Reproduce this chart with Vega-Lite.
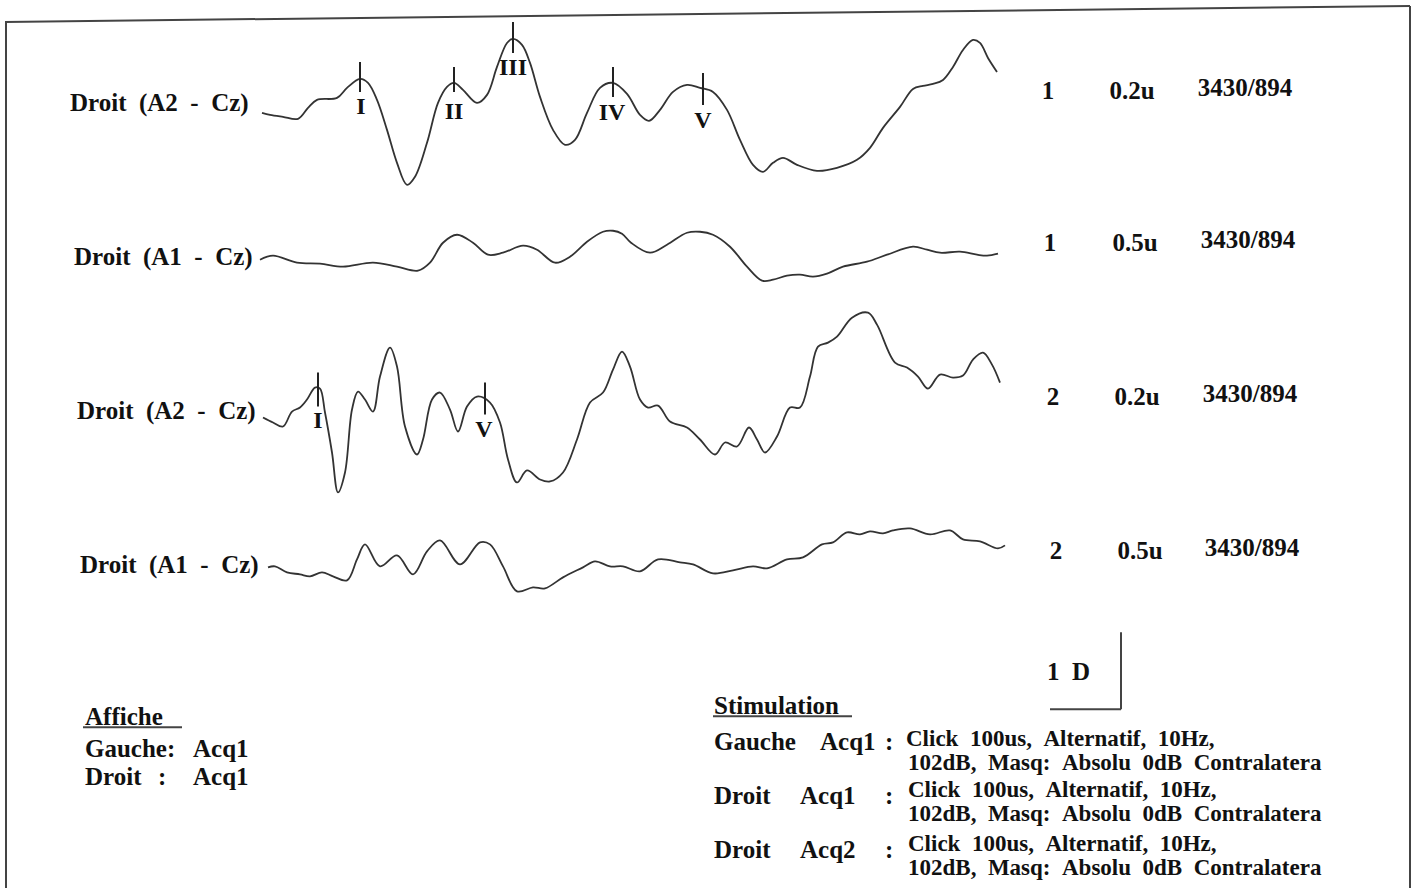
{
  "$schema": "https://vega.github.io/schema/vega-lite/v6.json",
  "width": 1416,
  "height": 889,
  "autosize": {"type": "fit", "contains": "padding"},
  "padding": 0,
  "background": "#ffffff",
  "config": {"view": {"stroke": null}, "axis": {"disable": true}},
  "datasets": {
    "traces": [
      {"trace": "A", "x": 262, "y": 113}, {"trace": "A", "x": 270, "y": 115}, {"trace": "A", "x": 283, "y": 117}, {"trace": "A", "x": 298, "y": 119}, {"trace": "A", "x": 308, "y": 108}, {"trace": "A", "x": 317, "y": 100}, {"trace": "A", "x": 337, "y": 98}, {"trace": "A", "x": 347, "y": 88}, {"trace": "A", "x": 360, "y": 79}, {"trace": "A", "x": 368, "y": 83}, {"trace": "A", "x": 377, "y": 100}, {"trace": "A", "x": 387, "y": 130}, {"trace": "A", "x": 397, "y": 163}, {"trace": "A", "x": 407, "y": 185}, {"trace": "A", "x": 415, "y": 177}, {"trace": "A", "x": 427, "y": 143}, {"trace": "A", "x": 438, "y": 103}, {"trace": "A", "x": 447, "y": 87}, {"trace": "A", "x": 454, "y": 83}, {"trace": "A", "x": 463, "y": 90}, {"trace": "A", "x": 477, "y": 103}, {"trace": "A", "x": 487, "y": 95}, {"trace": "A", "x": 497, "y": 67}, {"trace": "A", "x": 507, "y": 43}, {"trace": "A", "x": 513, "y": 39}, {"trace": "A", "x": 522, "y": 45}, {"trace": "A", "x": 530, "y": 63}, {"trace": "A", "x": 540, "y": 97}, {"trace": "A", "x": 553, "y": 130}, {"trace": "A", "x": 565, "y": 145}, {"trace": "A", "x": 575, "y": 140}, {"trace": "A", "x": 587, "y": 113}, {"trace": "A", "x": 600, "y": 88}, {"trace": "A", "x": 613, "y": 83}, {"trace": "A", "x": 627, "y": 94}, {"trace": "A", "x": 640, "y": 115}, {"trace": "A", "x": 649, "y": 121}, {"trace": "A", "x": 660, "y": 110}, {"trace": "A", "x": 673, "y": 92}, {"trace": "A", "x": 687, "y": 85}, {"trace": "A", "x": 700, "y": 88}, {"trace": "A", "x": 713, "y": 92}, {"trace": "A", "x": 727, "y": 110}, {"trace": "A", "x": 740, "y": 140}, {"trace": "A", "x": 753, "y": 165}, {"trace": "A", "x": 763, "y": 172}, {"trace": "A", "x": 773, "y": 163}, {"trace": "A", "x": 783, "y": 158}, {"trace": "A", "x": 797, "y": 165}, {"trace": "A", "x": 817, "y": 171}, {"trace": "A", "x": 837, "y": 168}, {"trace": "A", "x": 857, "y": 160}, {"trace": "A", "x": 870, "y": 148}, {"trace": "A", "x": 883, "y": 128}, {"trace": "A", "x": 900, "y": 107}, {"trace": "A", "x": 913, "y": 89}, {"trace": "A", "x": 923, "y": 86}, {"trace": "A", "x": 933, "y": 84}, {"trace": "A", "x": 943, "y": 80}, {"trace": "A", "x": 953, "y": 67}, {"trace": "A", "x": 963, "y": 50}, {"trace": "A", "x": 973, "y": 40}, {"trace": "A", "x": 980, "y": 43}, {"trace": "A", "x": 988, "y": 58}, {"trace": "A", "x": 997, "y": 72},

      {"trace": "B", "x": 260, "y": 260}, {"trace": "B", "x": 273, "y": 256}, {"trace": "B", "x": 297, "y": 263}, {"trace": "B", "x": 320, "y": 264}, {"trace": "B", "x": 343, "y": 267}, {"trace": "B", "x": 373, "y": 263}, {"trace": "B", "x": 397, "y": 267}, {"trace": "B", "x": 418, "y": 271}, {"trace": "B", "x": 430, "y": 263}, {"trace": "B", "x": 443, "y": 243}, {"trace": "B", "x": 457, "y": 235}, {"trace": "B", "x": 473, "y": 243}, {"trace": "B", "x": 488, "y": 255}, {"trace": "B", "x": 503, "y": 253}, {"trace": "B", "x": 523, "y": 246}, {"trace": "B", "x": 537, "y": 250}, {"trace": "B", "x": 555, "y": 263}, {"trace": "B", "x": 570, "y": 257}, {"trace": "B", "x": 587, "y": 242}, {"trace": "B", "x": 603, "y": 232}, {"trace": "B", "x": 613, "y": 231}, {"trace": "B", "x": 622, "y": 234}, {"trace": "B", "x": 631, "y": 243}, {"trace": "B", "x": 650, "y": 253}, {"trace": "B", "x": 667, "y": 245}, {"trace": "B", "x": 687, "y": 233}, {"trace": "B", "x": 700, "y": 232}, {"trace": "B", "x": 713, "y": 235}, {"trace": "B", "x": 730, "y": 247}, {"trace": "B", "x": 747, "y": 267}, {"trace": "B", "x": 762, "y": 281}, {"trace": "B", "x": 773, "y": 280}, {"trace": "B", "x": 787, "y": 276}, {"trace": "B", "x": 800, "y": 275}, {"trace": "B", "x": 813, "y": 277}, {"trace": "B", "x": 827, "y": 274}, {"trace": "B", "x": 843, "y": 267}, {"trace": "B", "x": 867, "y": 262}, {"trace": "B", "x": 887, "y": 255}, {"trace": "B", "x": 913, "y": 247}, {"trace": "B", "x": 927, "y": 250}, {"trace": "B", "x": 940, "y": 253}, {"trace": "B", "x": 960, "y": 252}, {"trace": "B", "x": 977, "y": 255}, {"trace": "B", "x": 987, "y": 256}, {"trace": "B", "x": 998, "y": 254},

      {"trace": "C", "x": 263, "y": 418}, {"trace": "C", "x": 273, "y": 423}, {"trace": "C", "x": 283, "y": 427}, {"trace": "C", "x": 292, "y": 412}, {"trace": "C", "x": 300, "y": 408}, {"trace": "C", "x": 307, "y": 400}, {"trace": "C", "x": 315, "y": 388}, {"trace": "C", "x": 320, "y": 389}, {"trace": "C", "x": 325, "y": 413}, {"trace": "C", "x": 332, "y": 453}, {"trace": "C", "x": 338, "y": 493}, {"trace": "C", "x": 345, "y": 473}, {"trace": "C", "x": 352, "y": 410}, {"trace": "C", "x": 358, "y": 392}, {"trace": "C", "x": 365, "y": 400}, {"trace": "C", "x": 373, "y": 412}, {"trace": "C", "x": 380, "y": 377}, {"trace": "C", "x": 390, "y": 348}, {"trace": "C", "x": 397, "y": 367}, {"trace": "C", "x": 405, "y": 427}, {"trace": "C", "x": 417, "y": 455}, {"trace": "C", "x": 423, "y": 440}, {"trace": "C", "x": 432, "y": 400}, {"trace": "C", "x": 440, "y": 393}, {"trace": "C", "x": 450, "y": 410}, {"trace": "C", "x": 458, "y": 432}, {"trace": "C", "x": 467, "y": 407}, {"trace": "C", "x": 477, "y": 397}, {"trace": "C", "x": 490, "y": 403}, {"trace": "C", "x": 500, "y": 423}, {"trace": "C", "x": 508, "y": 460}, {"trace": "C", "x": 517, "y": 483}, {"trace": "C", "x": 527, "y": 471}, {"trace": "C", "x": 540, "y": 480}, {"trace": "C", "x": 550, "y": 482}, {"trace": "C", "x": 563, "y": 473}, {"trace": "C", "x": 577, "y": 440}, {"trace": "C", "x": 590, "y": 403}, {"trace": "C", "x": 603, "y": 393}, {"trace": "C", "x": 613, "y": 370}, {"trace": "C", "x": 622, "y": 352}, {"trace": "C", "x": 630, "y": 367}, {"trace": "C", "x": 640, "y": 400}, {"trace": "C", "x": 648, "y": 408}, {"trace": "C", "x": 658, "y": 406}, {"trace": "C", "x": 670, "y": 422}, {"trace": "C", "x": 687, "y": 428}, {"trace": "C", "x": 700, "y": 440}, {"trace": "C", "x": 715, "y": 455}, {"trace": "C", "x": 725, "y": 443}, {"trace": "C", "x": 737, "y": 447}, {"trace": "C", "x": 749, "y": 428}, {"trace": "C", "x": 757, "y": 440}, {"trace": "C", "x": 765, "y": 453}, {"trace": "C", "x": 777, "y": 437}, {"trace": "C", "x": 790, "y": 408}, {"trace": "C", "x": 800, "y": 408}, {"trace": "C", "x": 810, "y": 377}, {"trace": "C", "x": 818, "y": 347}, {"trace": "C", "x": 828, "y": 343}, {"trace": "C", "x": 837, "y": 337}, {"trace": "C", "x": 852, "y": 318}, {"trace": "C", "x": 868, "y": 313}, {"trace": "C", "x": 877, "y": 325}, {"trace": "C", "x": 895, "y": 363}, {"trace": "C", "x": 907, "y": 368}, {"trace": "C", "x": 918, "y": 377}, {"trace": "C", "x": 928, "y": 389}, {"trace": "C", "x": 940, "y": 375}, {"trace": "C", "x": 953, "y": 378}, {"trace": "C", "x": 963, "y": 376}, {"trace": "C", "x": 973, "y": 360}, {"trace": "C", "x": 983, "y": 353}, {"trace": "C", "x": 992, "y": 365}, {"trace": "C", "x": 1000, "y": 383},

      {"trace": "D", "x": 268, "y": 568}, {"trace": "D", "x": 275, "y": 567}, {"trace": "D", "x": 287, "y": 573}, {"trace": "D", "x": 300, "y": 575}, {"trace": "D", "x": 310, "y": 577}, {"trace": "D", "x": 322, "y": 573}, {"trace": "D", "x": 333, "y": 577}, {"trace": "D", "x": 347, "y": 581}, {"trace": "D", "x": 357, "y": 560}, {"trace": "D", "x": 365, "y": 545}, {"trace": "D", "x": 380, "y": 567}, {"trace": "D", "x": 397, "y": 556}, {"trace": "D", "x": 413, "y": 575}, {"trace": "D", "x": 427, "y": 552}, {"trace": "D", "x": 440, "y": 541}, {"trace": "D", "x": 460, "y": 565}, {"trace": "D", "x": 480, "y": 543}, {"trace": "D", "x": 490, "y": 545}, {"trace": "D", "x": 503, "y": 567}, {"trace": "D", "x": 517, "y": 592}, {"trace": "D", "x": 533, "y": 588}, {"trace": "D", "x": 545, "y": 589}, {"trace": "D", "x": 563, "y": 578}, {"trace": "D", "x": 583, "y": 568}, {"trace": "D", "x": 595, "y": 562}, {"trace": "D", "x": 610, "y": 567}, {"trace": "D", "x": 623, "y": 567}, {"trace": "D", "x": 640, "y": 572}, {"trace": "D", "x": 658, "y": 560}, {"trace": "D", "x": 680, "y": 563}, {"trace": "D", "x": 693, "y": 565}, {"trace": "D", "x": 713, "y": 574}, {"trace": "D", "x": 733, "y": 571}, {"trace": "D", "x": 753, "y": 567}, {"trace": "D", "x": 767, "y": 569}, {"trace": "D", "x": 787, "y": 560}, {"trace": "D", "x": 803, "y": 558}, {"trace": "D", "x": 822, "y": 545}, {"trace": "D", "x": 833, "y": 543}, {"trace": "D", "x": 847, "y": 533}, {"trace": "D", "x": 860, "y": 535}, {"trace": "D", "x": 870, "y": 532}, {"trace": "D", "x": 883, "y": 534}, {"trace": "D", "x": 893, "y": 531}, {"trace": "D", "x": 910, "y": 529}, {"trace": "D", "x": 930, "y": 535}, {"trace": "D", "x": 950, "y": 531}, {"trace": "D", "x": 963, "y": 540}, {"trace": "D", "x": 980, "y": 542}, {"trace": "D", "x": 998, "y": 549}, {"trace": "D", "x": 1005, "y": 546}
    ],
    "ticks": [
      {"x": 360, "y": 62, "y2": 92}, {"x": 454, "y": 67, "y2": 92}, {"x": 513, "y": 22, "y2": 53}, {"x": 613, "y": 67, "y2": 97}, {"x": 703, "y": 73, "y2": 105},
      {"x": 318, "y": 373, "y2": 407}, {"x": 485, "y": 383, "y2": 415}
    ],
    "numerals": [
      {"x": 361, "y": 107, "text": "I"}, {"x": 454, "y": 112, "text": "II"}, {"x": 513, "y": 68, "text": "III"}, {"x": 612, "y": 113, "text": "IV"}, {"x": 703, "y": 121, "text": "V"},
      {"x": 318, "y": 421, "text": "I"}, {"x": 484, "y": 430, "text": "V"}
    ],
    "labels": [
      {"x": 70, "y": 103, "text": "Droit\u00a0\u00a0(A2\u00a0\u00a0-\u00a0\u00a0Cz)"},
      {"x": 74, "y": 257, "text": "Droit\u00a0\u00a0(A1\u00a0\u00a0-\u00a0\u00a0Cz)"},
      {"x": 77, "y": 411, "text": "Droit\u00a0\u00a0(A2\u00a0\u00a0-\u00a0\u00a0Cz)"},
      {"x": 80, "y": 566, "text": "Droit\u00a0\u00a0(A1\u00a0\u00a0-\u00a0\u00a0Cz)"},
      {"x": 85, "y": 718, "text": "Affiche"},
      {"x": 85, "y": 750, "text": "Gauche:"},
      {"x": 193, "y": 750, "text": "Acq1"},
      {"x": 85, "y": 778, "text": "Droit"},
      {"x": 158, "y": 778, "text": ":"},
      {"x": 193, "y": 778, "text": "Acq1"},
      {"x": 1047, "y": 673, "text": "1\u00a0\u00a0D"},
      {"x": 714, "y": 707, "text": "Stimulation"},
      {"x": 714, "y": 743, "text": "Gauche"},
      {"x": 820, "y": 743, "text": "Acq1"},
      {"x": 885, "y": 743, "text": ":"},
      {"x": 714, "y": 797, "text": "Droit"},
      {"x": 800, "y": 797, "text": "Acq1"},
      {"x": 885, "y": 797, "text": ":"},
      {"x": 714, "y": 851, "text": "Droit"},
      {"x": 800, "y": 851, "text": "Acq2"},
      {"x": 885, "y": 851, "text": ":"}
    ],
    "stimText": [
      {"x": 906, "y": 740, "text": "Click\u00a0\u00a0100us,\u00a0\u00a0Alternatif,\u00a0\u00a010Hz,"},
      {"x": 908, "y": 764, "text": "102dB,\u00a0\u00a0Masq:\u00a0\u00a0Absolu\u00a0\u00a00dB\u00a0\u00a0Contralatera"},
      {"x": 908, "y": 791, "text": "Click\u00a0\u00a0100us,\u00a0\u00a0Alternatif,\u00a0\u00a010Hz,"},
      {"x": 908, "y": 815, "text": "102dB,\u00a0\u00a0Masq:\u00a0\u00a0Absolu\u00a0\u00a00dB\u00a0\u00a0Contralatera"},
      {"x": 908, "y": 845, "text": "Click\u00a0\u00a0100us,\u00a0\u00a0Alternatif,\u00a0\u00a010Hz,"},
      {"x": 908, "y": 869, "text": "102dB,\u00a0\u00a0Masq:\u00a0\u00a0Absolu\u00a0\u00a00dB\u00a0\u00a0Contralatera"}
    ],
    "rightText": [
      {"x": 1048, "y": 91, "text": "1"}, {"x": 1132, "y": 91, "text": "0.2u"}, {"x": 1245, "y": 88, "text": "3430/894"},
      {"x": 1050, "y": 243, "text": "1"}, {"x": 1135, "y": 243, "text": "0.5u"}, {"x": 1248, "y": 240, "text": "3430/894"},
      {"x": 1053, "y": 397, "text": "2"}, {"x": 1137, "y": 397, "text": "0.2u"}, {"x": 1250, "y": 394, "text": "3430/894"},
      {"x": 1056, "y": 552, "text": "2"}, {"x": 1140, "y": 552, "text": "0.5u"}, {"x": 1252, "y": 549, "text": "3430/894"}
    ],
    "lines": [
      {"x": 5, "y": 22, "x2": 1410, "y2": 6},
      {"x": 6, "y": 22, "x2": 6, "y2": 889},
      {"x": 1410, "y": 6, "x2": 1410, "y2": 889},
      {"x": 83, "y": 728, "x2": 182, "y2": 728},
      {"x": 713, "y": 717, "x2": 852, "y2": 717},
      {"x": 1121, "y": 633, "x2": 1121, "y2": 710},
      {"x": 1050, "y": 710, "x2": 1121, "y2": 710}
    ]
  },
  "layer": [
    {
      "data": {"name": "lines"},
      "mark": {"type": "rule", "color": "#444444", "strokeWidth": 2},
      "encoding": {
        "x": {"field": "x", "type": "quantitative", "scale": {"domain": [0, 1416], "nice": false, "zero": false}, "axis": null},
        "y": {"field": "y", "type": "quantitative", "scale": {"domain": [0, 889], "nice": false, "zero": false, "reverse": true}, "axis": null},
        "x2": {"field": "x2"},
        "y2": {"field": "y2"}
      }
    },
    {
      "data": {"name": "traces"},
      "mark": {"type": "line", "color": "#333333", "strokeWidth": 1.8, "interpolate": "catmull-rom"},
      "encoding": {
        "x": {"field": "x", "type": "quantitative"},
        "y": {"field": "y", "type": "quantitative"},
        "detail": {"field": "trace"}
      }
    },
    {
      "data": {"name": "ticks"},
      "mark": {"type": "rule", "color": "#222222", "strokeWidth": 2},
      "encoding": {
        "x": {"field": "x", "type": "quantitative"},
        "y": {"field": "y", "type": "quantitative"},
        "y2": {"field": "y2"}
      }
    },
    {
      "data": {"name": "numerals"},
      "mark": {"type": "text", "font": "Liberation Serif", "fontWeight": "bold", "fontSize": 24, "align": "center", "baseline": "middle", "color": "#111111"},
      "encoding": {
        "x": {"field": "x", "type": "quantitative"},
        "y": {"field": "y", "type": "quantitative"},
        "text": {"field": "text"}
      }
    },
    {
      "data": {"name": "labels"},
      "mark": {"type": "text", "font": "Liberation Serif", "fontWeight": "bold", "fontSize": 25, "align": "left", "baseline": "middle", "color": "#111111"},
      "encoding": {
        "x": {"field": "x", "type": "quantitative"},
        "y": {"field": "y", "type": "quantitative"},
        "text": {"field": "text"}
      }
    },
    {
      "data": {"name": "stimText"},
      "mark": {"type": "text", "font": "Liberation Serif", "fontWeight": "bold", "fontSize": 23, "align": "left", "baseline": "middle", "color": "#111111"},
      "encoding": {
        "x": {"field": "x", "type": "quantitative"},
        "y": {"field": "y", "type": "quantitative"},
        "text": {"field": "text"}
      }
    },
    {
      "data": {"name": "rightText"},
      "mark": {"type": "text", "font": "Liberation Serif", "fontWeight": "bold", "fontSize": 25, "align": "center", "baseline": "middle", "color": "#111111"},
      "encoding": {
        "x": {"field": "x", "type": "quantitative"},
        "y": {"field": "y", "type": "quantitative"},
        "text": {"field": "text"}
      }
    }
  ]
}
